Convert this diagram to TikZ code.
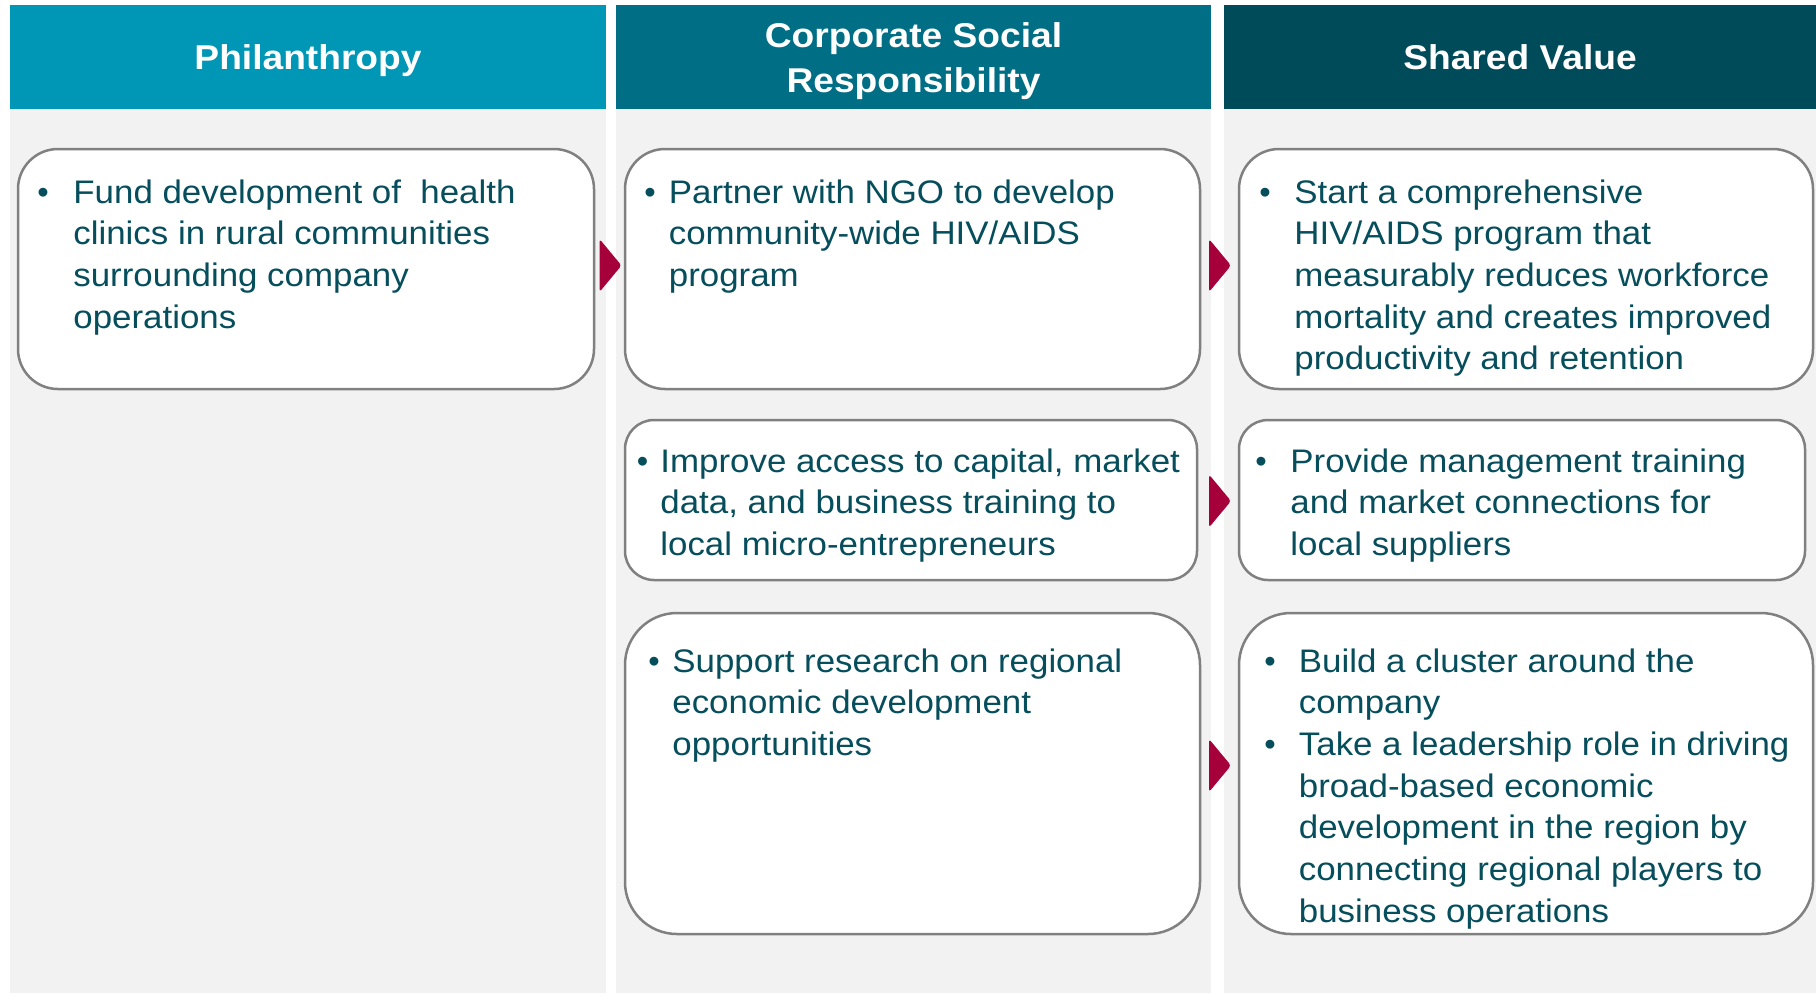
\documentclass[tikz,border=0pt]{standalone}
\usepackage{fontspec}
\setmainfont{Liberation Sans}
\usepackage{graphicx}

\definecolor{philc}{RGB}{0,150,182}
\definecolor{csrc}{RGB}{0,110,133}
\definecolor{svc}{RGB}{0,75,90}
\definecolor{colgray}{RGB}{242,242,242}
\definecolor{cardline}{RGB}{128,128,128}
\definecolor{textc}{RGB}{6,78,92}
\definecolor{chevc}{RGB}{166,0,58}

% left-aligned block of lines whose baseline is that of its first line
\newcommand\boxlines[1]{\scalebox{1.07}[1]{\begin{tabular}[t]{@{}l@{}}#1\end{tabular}}}

\tikzset{
  colbg/.style={fill=colgray},
  card/.style={draw=cardline, line width=1.25pt, fill=white, inner sep=0pt},
  body/.style={inner sep=0pt, text=textc, font=\fontsize{16.3pt}{20.85pt}\selectfont, anchor=base west},
  dot/.style={inner sep=0pt, text=textc, font=\fontsize{16.3pt}{20.85pt}\selectfont, anchor=base},
  headtxt/.style={inner sep=0pt, text=white, font=\bfseries\fontsize{17.2pt}{22.5pt}\selectfont, anchor=base},
  chevron/.pic={\fill[chevc, rounded corners=1.5pt] (-11,-26.5) -- (11,0) -- (-11,26.5) -- cycle;}
}

\begin{document}
\begin{tikzpicture}[x=0.5pt, y=-0.5pt]
\useasboundingbox (0,0) rectangle (1816,993);

% column backgrounds and headers
\fill[colbg] (10,109) rectangle (606,993);
\fill[colbg] (616,109) rectangle (1211,993);
\fill[colbg] (1224,109) rectangle (1816,993);
\fill[philc] (10,5) rectangle (606,109);
\fill[csrc] (616,5) rectangle (1211,109);
\fill[svc] (1224,5) rectangle (1816,109);

\node[headtxt] (hphil) at (308,69) {\scalebox{1.08}[1]{Philanthropy}};
\node[headtxt] (hcsr) at (913.5,47.5) {\scalebox{1.08}[1]{\begin{tabular}[t]{@{}c@{}}Corporate Social\\Responsibility\end{tabular}}};
\node[headtxt] (hsv) at (1520,69) {\scalebox{1.08}[1]{Shared Value}};

% cards
\node[card, minimum width=288pt, minimum height=120pt, rounded corners=20pt] (p1) at (306,269) {};
\node[card, minimum width=287.5pt, minimum height=120pt, rounded corners=20pt] (c1) at (912.5,269) {};
\node[card, minimum width=287pt, minimum height=120pt, rounded corners=20pt] (s1) at (1526,269) {};
\node[card, minimum width=286pt, minimum height=80pt, rounded corners=14.5pt] (c2) at (911,500) {};
\node[card, minimum width=283pt, minimum height=80pt, rounded corners=14.5pt] (s2) at (1522,500) {};
\node[card, minimum width=287.5pt, minimum height=160.5pt, rounded corners=26pt] (c3) at (912.5,773.5) {};
\node[card, minimum width=287pt, minimum height=160.5pt, rounded corners=26pt] (s3) at (1526,773.5) {};

% chevrons between the columns
\coordinate (k1) at (610.5,265.5);
\coordinate (k2) at (1220,265.5);
\coordinate (k3) at (1220,501);
\coordinate (k4) at (1220,765.5);
\pic at (k1) {chevron};
\pic at (k2) {chevron};
\pic at (k3) {chevron};
\pic at (k4) {chevron};

% card texts
\node[dot] (p1b) at (43,203) {•};
\node[body] (p1t) at (73,203) {\boxlines{Fund development of~ health\\clinics in rural communities\\surrounding company\\operations}};

\node[dot] (c1b) at (650,203) {•};
\node[body] (c1t) at (668.5,203) {\boxlines{Partner with NGO to develop\\community-wide HIV/AIDS\\program}};

\node[dot] (s1b) at (1265,203) {•};
\node[body] (s1t) at (1294,203) {\boxlines{Start a comprehensive\\HIV/AIDS program that\\measurably reduces workforce\\mortality and creates improved\\productivity and retention}};

\node[dot] (c2b) at (642.5,472) {•};
\node[body] (c2t) at (660,472) {\boxlines{Improve access to capital, market\\data, and business training to\\local micro-entrepreneurs}};

\node[dot] (s2b) at (1261,472) {•};
\node[body] (s2t) at (1290,472) {\boxlines{Provide management training\\and market connections for\\local suppliers}};

\node[dot] (c3b) at (654,672) {•};
\node[body] (c3t) at (672,672) {\boxlines{Support research on regional\\economic development\\opportunities}};

\node[dot] (s3b1) at (1270,672) {•};
\node[dot] (s3b2) at (1270,755) {•};
\node[body] (s3t) at (1298.5,672) {\boxlines{Build a cluster around the\\company\\Take a leadership role in driving\\broad-based economic\\development in the region by\\connecting regional players to\\business operations}};
\end{tikzpicture}
\end{document}
